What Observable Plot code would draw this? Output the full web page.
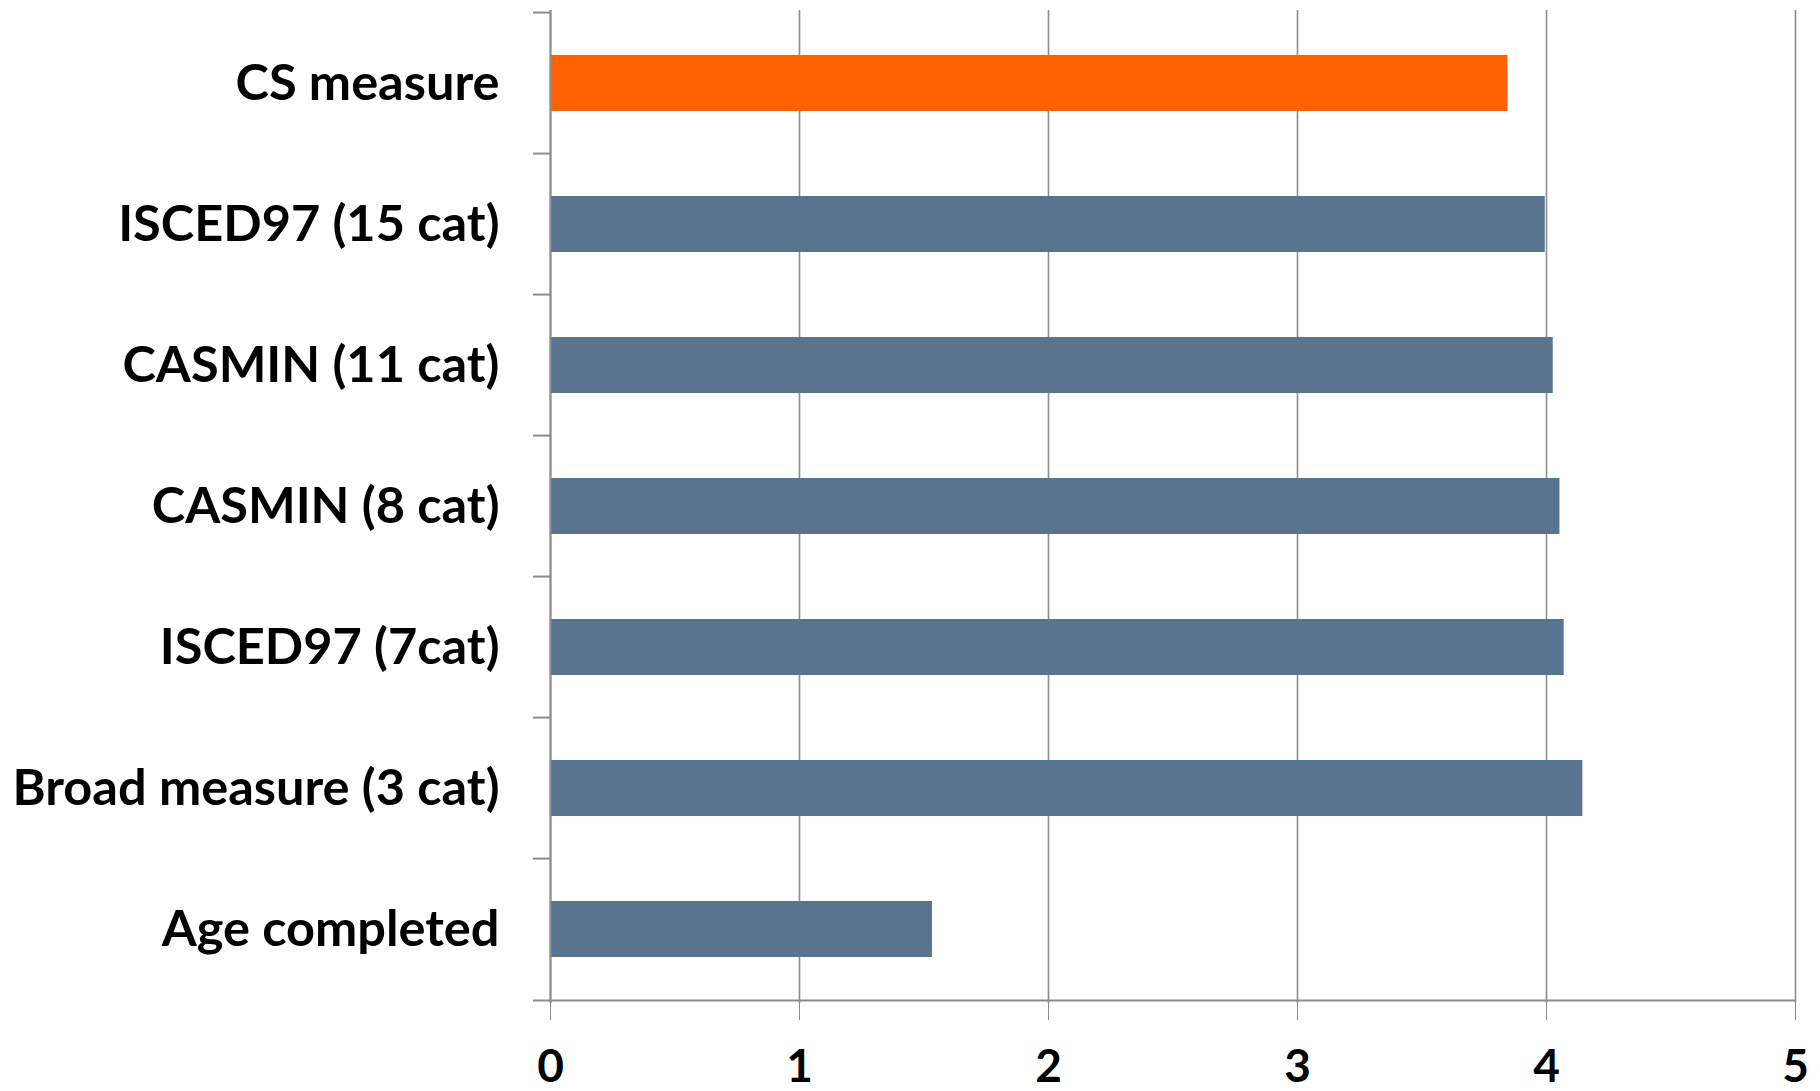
<!DOCTYPE html>
<html>
<head>
<meta charset="utf-8">
<script src="https://cdn.jsdelivr.net/npm/d3@7"></script>
<script src="https://cdn.jsdelivr.net/npm/@observablehq/plot@0.6"></script>
<style>
  html, body { margin: 0; padding: 0; background: #fff; }
  #chart svg { display: block; }
</style>
</head>
<body>
<div id="chart"></div>
<script>
const categories = [
  "CS measure",
  "ISCED97 (15 cat)",
  "CASMIN (11 cat)",
  "CASMIN (8 cat)",
  "ISCED97 (7cat)",
  "Broad measure (3 cat)",
  "Age completed"
];
const values = [3.845, 3.995, 4.027, 4.054, 4.071, 4.146, 1.534];
const highlight = ["CS measure"];
const xTicks = [0, 1, 2, 3, 4, 5];

const data = categories.map((c, i) => ({category: c, value: values[i], hl: highlight.includes(c)}));

const W = 1820, H = 1091;
const mL = 550, mR = 25, mT = 10, mB = 88;
const step = (H - mT - mB) / categories.length;
const tickLen = 17 / ((W - mL - mR) / 5);
const gray = "#8c8c8c";

const chart = Plot.plot({
  width: W,
  height: H,
  marginLeft: mL,
  marginRight: mR,
  marginTop: mT,
  marginBottom: mB,
  style: {fontFamily: "Lato, sans-serif", fontWeight: "bold", color: "#000", background: "#fff", overflow: "visible"},
  x: {domain: [0, 5], ticks: xTicks, label: null},
  y: {domain: categories, paddingInner: 0.6, paddingOuter: 0.3, label: null},
  marks: [
    Plot.gridX(xTicks, {stroke: gray, strokeOpacity: 1, strokeWidth: 1.6}),
    Plot.barX(data, {
      y: "category",
      x: "value",
      fill: d => d.hl ? "#ff6100" : "#58748f"
    }),
    Plot.ruleX([0], {stroke: gray, strokeWidth: 2}),
    Plot.ruleY(categories, {y: d => d, x1: -tickLen, x2: 0, dy: -step / 2, stroke: gray, strokeWidth: 2}),
    Plot.ruleY([categories[categories.length - 1]], {y: d => d, x1: -tickLen, x2: 5, dy: step / 2, stroke: gray, strokeWidth: 2}),
    Plot.axisX({
      ticks: xTicks,
      tickSize: 17,
      tickPadding: 29,
      stroke: gray,
      fontSize: 46,
      fontWeight: "bold",
      fill: "#000",
      tickFormat: d => String(d)
    }),
    Plot.axisY({
      tickSize: 0,
      tickPadding: 51,
      fontSize: 50.5,
      fontWeight: "bold",
      fill: "#000"
    })
  ]
});
document.getElementById("chart").appendChild(chart);
</script>
</body>
</html>
